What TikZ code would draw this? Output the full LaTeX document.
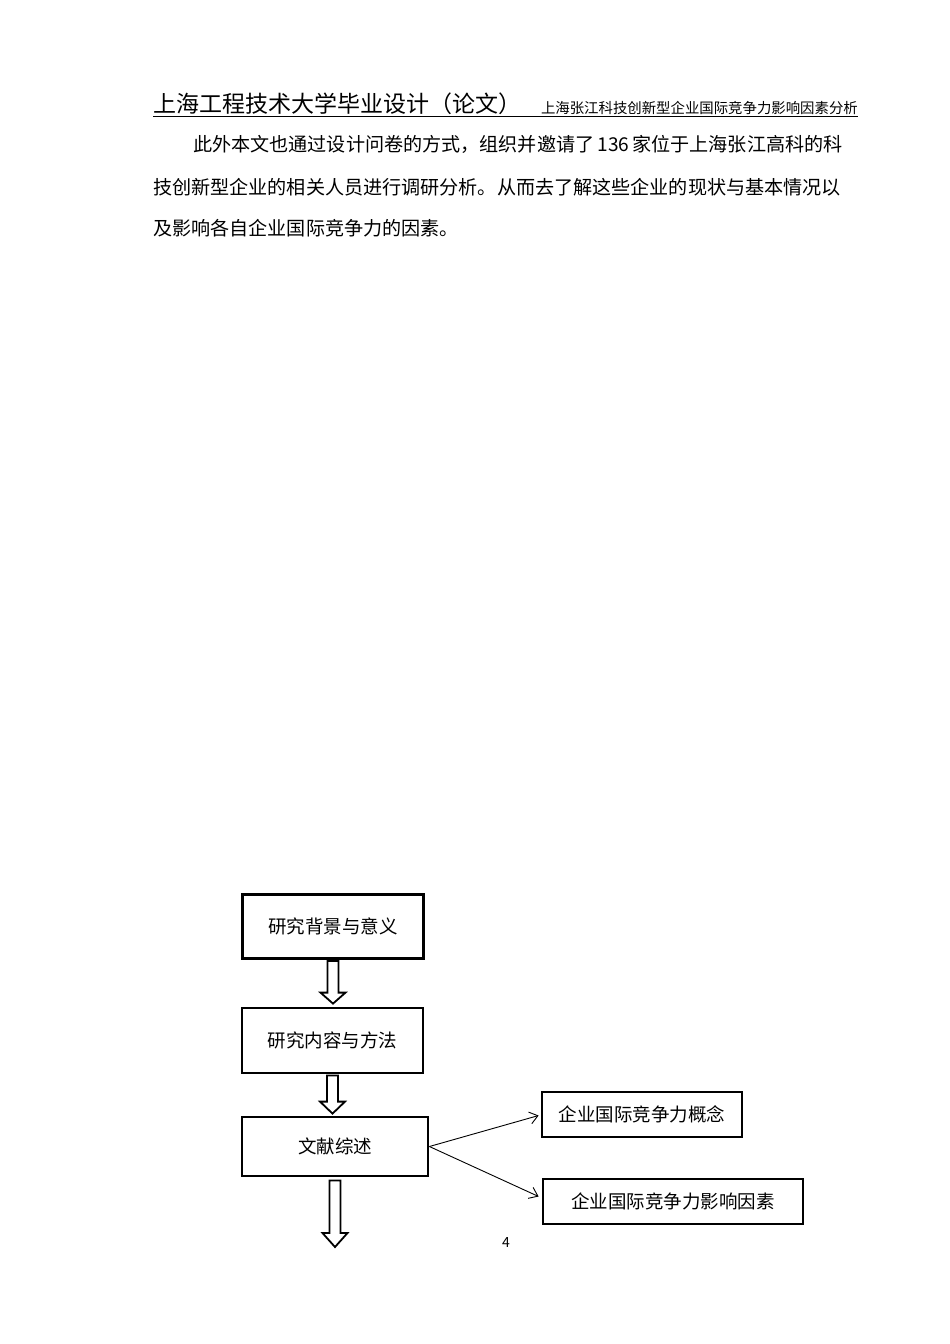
\documentclass[tikz,border=0pt]{standalone}
\usepackage{fontspec}
\setmainfont{Noto Sans CJK SC}
\usetikzlibrary{arrows.meta,calc}
\begin{document}
\begin{tikzpicture}[x=1pt,y=-1pt,
  txt/.style={inner sep=0pt,anchor=west,font=\fontsize{19.1}{22}\selectfont},
  box/.style={draw,line width=2.8pt,inner sep=0pt,font=\fontsize{18.5}{22}\selectfont},
  hollow/.style={draw,line width=1.8pt,fill=white,line join=miter},
  thin/.style={draw,line width=0.9pt,-{Straight Barb[length=8pt,width=12pt]}}]
\useasboundingbox (0,0) rectangle (950,1344);
\fill[white] (0,0) rectangle (950,1344);
% header
\node[inner sep=0pt,anchor=west,font=\fontsize{23}{25}\selectfont] (hl) at (153,104) {上海工程技术大学毕业设计（论文）};
\node[inner sep=0pt,anchor=east,font=\fontsize{14.4}{17}\selectfont] (hr) at (858,108) {上海张江科技创新型企业国际竞争力影响因素分析};
\draw[line width=1.3pt] (153,116.5) -- (858,116.5);
% body
\node[txt] (l1) at (193,144) {此外本文也通过设计问卷的方式，组织并邀请了\,136\,家位于上海张江高科的科};
\node[txt] (l2) at (153,187) {技创新型企业的相关人员进行调研分析。从而去了解这些企业的现状与基本情况以};
\node[txt] (l3) at (153,228) {及影响各自企业国际竞争力的因素。};
% flowchart
\node[box,minimum width=181pt,minimum height=64pt] (b1) at (333,926.5) {研究背景与意义};
\node[box,minimum width=181pt,minimum height=65pt] (b2) at (332.5,1040.5) {研究内容与方法};
\node[box,minimum width=186pt,minimum height=59pt] (b3) at (335,1146.5) {文献综述};
\node[box,minimum width=200pt,minimum height=45pt] (b4) at (642,1114.5) {企业国际竞争力概念};
\node[box,minimum width=260pt,minimum height=45pt] (b5) at (673,1201.5) {企业国际竞争力影响因素};
\coordinate (e3) at (335,1247);
% hollow arrows
\path[hollow] let \p1=(b1.south), \p2=(b2.north) in
  (\x1-5.5pt,\y1-1pt) -- (\x1+5.5pt,\y1-1pt) -- (\x1+5.5pt,\y2+14pt) -- (\x1+12.5pt,\y2+14pt) -- (\x1,\y2+3pt) -- (\x1-12.5pt,\y2+14pt) -- (\x1-5.5pt,\y2+14pt) -- cycle;
\path[hollow] let \p1=(b2.south), \p2=(b3.north) in
  (\x1-5.5pt,\y1-1pt) -- (\x1+5.5pt,\y1-1pt) -- (\x1+5.5pt,\y2+14pt) -- (\x1+12.5pt,\y2+14pt) -- (\x1,\y2+2pt) -- (\x1-12.5pt,\y2+14pt) -- (\x1-5.5pt,\y2+14pt) -- cycle;
\path[hollow] let \p1=(b3.south), \p2=(e3) in
  (\x1-5.5pt,\y1-3pt) -- (\x1+5.5pt,\y1-3pt) -- (\x1+5.5pt,\y2+14pt) -- (\x1+12.5pt,\y2+14pt) -- (\x1,\y2) -- (\x1-12.5pt,\y2+14pt) -- (\x1-5.5pt,\y2+14pt) -- cycle;
% thin arrows
\draw[thin] (b3.east) -- ($(b4.west)+(-2,1)$);
\draw[thin] (b3.east) -- ($(b5.west)+(-3,-5)$);
% page number
\node[inner sep=0pt,font=\fontsize{14}{16}\selectfont] (pn) at (506,1242) {4};
\end{tikzpicture}
\end{document}
